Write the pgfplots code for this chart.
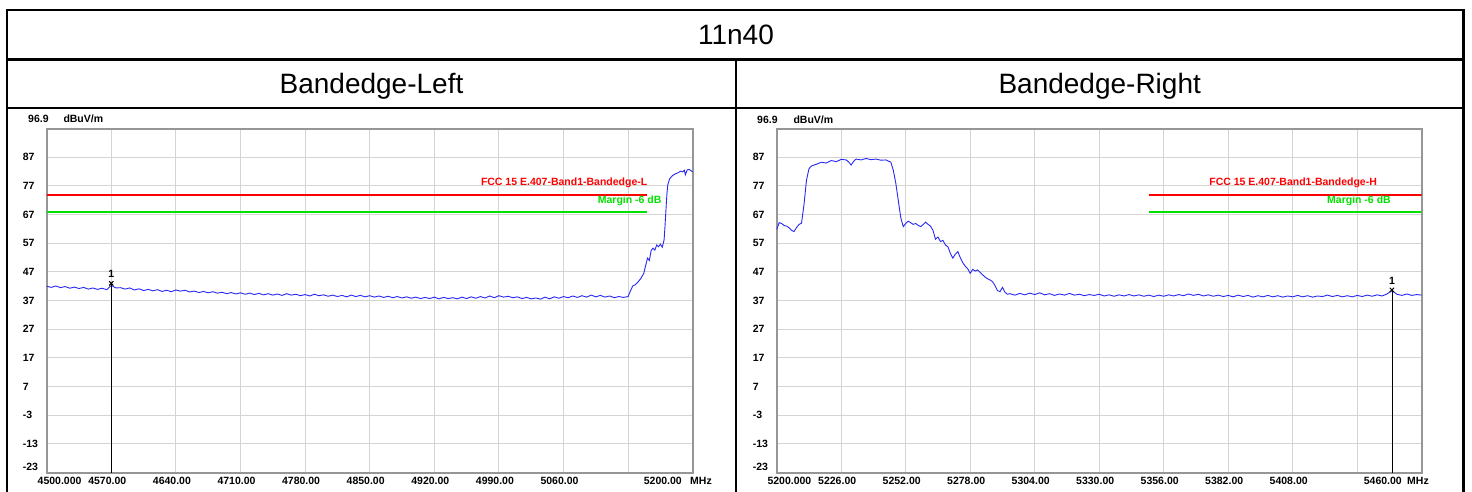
\documentclass[border=0pt]{standalone}
\usepackage{fontspec}
\setmainfont{Liberation Sans}
\usepackage{pgfplots}
\pgfplotsset{compat=1.18}

\definecolor{trace}{RGB}{40,40,245}
\definecolor{limitred}{RGB}{255,0,0}
\definecolor{margingreen}{RGB}{0,225,0}
\definecolor{gridgray}{RGB}{212,212,212}
\definecolor{axisgray}{RGB}{150,150,150}

\newcommand\lbl{\fontsize{10.5}{12}\selectfont\bfseries}
\newcommand\head{\fontsize{28}{32}\selectfont}

\pgfplotsset{
  spectrum/.style={
    scale only axis, height=343.7pt,
    ymin=-23.1, ymax=96.9,
    ytick={-13,-3,7,17,27,37,47,57,67,77,87},
    extra y ticks={-23},
    extra y tick style={grid=none, yticklabel style={yshift=6pt}},
    grid=major, major grid style={gridgray, line width=1pt},
    major tick length=0pt,
    axis line style={axisgray, line width=1.6pt},
    tick label style={font=\lbl},
    /pgf/number format/assume math mode=true,
    yticklabel style={anchor=west, inner sep=0pt, xshift=-24pt},
    xticklabel style={anchor=north, inner sep=0pt, yshift=-4pt, xshift=-4pt},
  },
  limit/.style={limitred, line width=2pt},
  margin/.style={margingreen, line width=2pt},
  sweep/.style={trace, line width=0.9pt},
  mkline/.style={black, line width=0.8pt},
  mkx/.style={black, only marks, mark=x, mark size=3pt, mark options={line width=1pt}},
}

\begin{document}
\begin{tikzpicture}[x=1pt,y=1pt]
\useasboundingbox (0,0) rectangle (1472,491);

% table frame
\draw[line width=2.5pt] (7,-5) -- (7,481) -- (1463.3,481) -- (1463.3,-5);
\draw[line width=2.5pt] (7,431.5) -- (1463.3,431.5);
\draw[line width=2.5pt] (7,383) -- (1463.3,383);
\draw[line width=2.5pt] (736,431.5) -- (736,-5);

\node[font=\head, anchor=base] at (736,446.2) {11n40};
\node[font=\head, anchor=base] at (371.5,397) {Bandedge-Left};
\node[font=\head, anchor=base] at (1099.7,397) {Bandedge-Right};

% ---------------- left band edge ----------------
\begin{axis}[spectrum, at={(46.7pt,18.3pt)}, anchor=south west, width=646pt,
  xmin=4500, xmax=5200,
  xtick={4570,4640,...,5130},
  xticklabels={4570.00,4640.00,4710.00,4780.00,4850.00,4920.00,4990.00,5060.00,{}}]
\addplot[limit] coordinates {(4500,74) (5150,74)};
\addplot[margin] coordinates {(4500,68) (5150,68)};
\addplot[sweep] coordinates {
(4500,42.0) (4505,41.6) (4510,42.1) (4515,41.5) (4520,41.9) (4525,41.3) (4530,41.7) (4535,41.2)
(4540,41.6) (4545,41.0) (4550,41.4) (4555,40.9) (4560,41.3) (4565,40.8) (4570,42.3) (4575,41.4)
(4580,41.5) (4585,41.0) (4590,41.4) (4595,40.7) (4600,41.1) (4605,40.5) (4610,40.9) (4615,40.4)
(4620,40.8) (4625,40.2) (4630,40.6) (4635,40.1) (4640,40.7) (4645,40.3) (4650,40.6) (4655,40.0)
(4660,40.3) (4665,39.8) (4670,40.2) (4675,39.7) (4680,40.1) (4685,39.6) (4690,39.9) (4695,39.4)
(4700,39.8) (4705,39.3) (4710,39.7) (4715,39.2) (4720,39.6) (4725,39.1) (4730,39.5) (4735,39.0)
(4740,39.4) (4745,38.9) (4750,39.3) (4755,38.8) (4760,39.4) (4765,38.9) (4770,39.2) (4775,38.7)
(4780,39.1) (4785,38.6) (4790,39.2) (4795,38.7) (4800,39.0) (4805,38.5) (4810,38.9) (4815,38.4)
(4820,38.8) (4825,38.3) (4830,38.9) (4835,38.4) (4840,38.8) (4845,38.3) (4850,38.7) (4855,38.2)
(4860,38.6) (4865,38.1) (4870,38.5) (4875,38.0) (4880,38.4) (4885,37.9) (4890,38.3) (4895,37.8)
(4900,38.2) (4905,37.7) (4910,38.1) (4915,37.7) (4920,38.2) (4925,37.6) (4930,38.1) (4935,37.7)
(4940,38.0) (4945,37.6) (4950,38.2) (4955,37.7) (4960,38.3) (4965,37.8) (4970,38.4) (4975,37.9)
(4980,38.6) (4985,38.0) (4990,38.7) (4995,38.2) (5000,38.5) (5005,38.0) (5010,38.3) (5015,37.7)
(5020,38.1) (5025,37.6) (5030,37.9) (5035,37.5) (5040,38.2) (5045,37.6) (5050,38.3) (5055,37.8)
(5060,38.4) (5065,38.0) (5070,38.6) (5075,38.1) (5080,38.7) (5085,38.2) (5090,38.9) (5095,38.3)
(5100,38.8) (5105,38.2) (5110,38.6) (5115,38.0) (5120,38.4) (5125,38.1) (5130,38.4)
(5132,40.0) (5135,42.1) (5138,42.6) (5141,43.6) (5144,44.8) (5147,46.5) (5149,49.2) (5151,51.8)
(5153,51.0) (5155,54.5) (5157,55.3) (5159,54.6) (5161,56.4) (5163,55.8) (5165,56.7) (5167,55.6)
(5169,58.2) (5170,63.0) (5171,68.6) (5172,74.0) (5173,77.4) (5175,79.5) (5178,80.6) (5181,81.2)
(5184,81.6) (5187,82.2) (5189,81.9) (5191,82.5) (5192,80.9) (5194,82.6) (5196,82.8) (5198,82.4)
(5200,81.9)
};
\addplot[mkline] coordinates {(4570,43) (4570,-23.1)};
\addplot[mkx] coordinates {(4570,43)};
\node[font=\lbl, inner sep=0pt] at (axis cs:4570,46.3) {1};
\node[limitred, font=\lbl, anchor=east, inner sep=0pt] at (axis cs:5151,78.1) {FCC 15 E.407-Band1-Bandedge-L};
\node[margingreen, font=\lbl, anchor=east, inner sep=0pt] at (axis cs:5166.4,71.8) {Margin -6 dB};
\end{axis}

\node[font=\lbl, anchor=west, inner sep=0pt] at (28,372.5) {96.9};
\node[font=\lbl, anchor=west, inner sep=0pt] at (63.3,372.5) {dBuV/m};
\node[font=\lbl, anchor=north west, inner sep=0pt] at (37.5,14.3) {4500.000};
\node[font=\lbl, anchor=north east, inner sep=0pt] at (682,14.3) {5200.00};
\node[font=\lbl, anchor=north west, inner sep=0pt] at (690,14.3) {MHz};

% ---------------- right band edge ----------------
\begin{axis}[spectrum, at={(776.7pt,18.3pt)}, anchor=south west, width=645pt,
  xmin=5200, xmax=5460,
  xtick={5226,5252,...,5434},
  xticklabels={5226.00,5252.00,5278.00,5304.00,5330.00,5356.00,5382.00,5408.00,{}}]
\addplot[limit] coordinates {(5350,74) (5460,74)};
\addplot[margin] coordinates {(5350,68) (5460,68)};
\addplot[sweep] coordinates {
(5200,61.8) (5201,64.2) (5202,63.9) (5203,63.2) (5204,63.0) (5205,62.4) (5206,61.5) (5207,61.1)
(5208,62.5) (5209,63.6) (5210,64.0) (5211,70.5) (5212,79.0) (5213,83.0) (5214,84.0) (5216,84.6)
(5218,85.3) (5220,85.0) (5222,85.9) (5224,85.5) (5226,86.3) (5228,86.1) (5229,85.4) (5230,84.3)
(5231,85.6) (5232,86.4) (5234,86.1) (5236,86.6) (5238,86.2) (5240,86.4) (5242,86.0) (5244,86.1)
(5245,85.7) (5246,85.3) (5247,82.5) (5248,78.0) (5249,72.0) (5250,66.0) (5251,62.8) (5252,63.9)
(5253,64.7) (5254,64.2) (5255,63.6) (5256,63.9) (5257,63.3) (5258,62.8) (5259,63.5) (5260,64.4)
(5261,63.6) (5262,63.0) (5263,61.5) (5264,58.4) (5265,59.2) (5266,57.6) (5267,58.0) (5268,56.4)
(5269,55.8) (5270,53.5) (5271,51.8) (5272,53.2) (5273,54.1) (5274,52.0) (5275,50.2) (5276,49.0)
(5277,48.1) (5278,46.5) (5279,47.9) (5280,47.3) (5281,47.7) (5282,46.8) (5283,46.0) (5284,45.2)
(5285,44.6) (5286,44.2) (5287,43.6) (5288,42.2) (5289,40.5) (5290,40.1) (5291,41.6) (5292,39.9)
(5293,39.2) (5294,39.4) (5296,38.9) (5298,39.5) (5300,39.0) (5302,39.6) (5304,39.1) (5306,39.7)
(5308,39.0) (5310,39.4) (5312,38.8) (5314,39.3) (5316,38.9) (5318,39.5) (5320,38.9) (5322,39.2)
(5324,38.7) (5326,39.1) (5328,38.8) (5330,39.2) (5332,38.6) (5334,39.0) (5336,38.5) (5338,39.0)
(5340,38.6) (5342,39.1) (5344,38.6) (5346,39.0) (5348,38.5) (5350,38.9) (5352,38.4) (5354,38.9)
(5356,38.5) (5358,39.0) (5360,38.6) (5362,39.1) (5364,38.7) (5366,39.3) (5368,38.8) (5370,39.2)
(5372,38.6) (5374,39.0) (5376,38.5) (5378,38.9) (5380,38.4) (5382,38.8) (5384,38.3) (5386,38.9)
(5388,38.4) (5390,38.8) (5392,38.2) (5394,38.7) (5396,38.3) (5398,38.8) (5400,38.3) (5402,38.7)
(5404,38.2) (5406,38.6) (5408,38.3) (5410,38.8) (5412,38.3) (5414,38.7) (5416,38.2) (5418,38.6)
(5420,38.4) (5422,38.9) (5424,38.4) (5426,38.8) (5428,38.3) (5430,38.7) (5432,38.3) (5434,38.8)
(5436,38.4) (5438,38.9) (5440,38.5) (5442,39.0) (5444,38.6) (5446,39.3) (5448,40.5) (5450,39.2)
(5452,38.8) (5454,39.3) (5456,38.8) (5458,39.1) (5460,38.9)
};
\addplot[mkline] coordinates {(5448,40.7) (5448,-23.1)};
\addplot[mkx] coordinates {(5448,40.7)};
\node[font=\lbl, inner sep=0pt] at (axis cs:5448,43.9) {1};
\node[limitred, font=\lbl, anchor=east, inner sep=0pt] at (axis cs:5442,78.0) {FCC 15 E.407-Band1-Bandedge-H};
\node[margingreen, font=\lbl, anchor=east, inner sep=0pt] at (axis cs:5447.6,72.0) {Margin -6 dB};
\end{axis}

\node[font=\lbl, anchor=west, inner sep=0pt] at (757,371) {96.9};
\node[font=\lbl, anchor=west, inner sep=0pt] at (793.3,371) {dBuV/m};
\node[font=\lbl, anchor=north west, inner sep=0pt] at (767.3,14.3) {5200.000};
\node[font=\lbl, anchor=north east, inner sep=0pt] at (1402,14.3) {5460.00};
\node[font=\lbl, anchor=north west, inner sep=0pt] at (1407,14.3) {MHz};
\end{tikzpicture}
\end{document}
